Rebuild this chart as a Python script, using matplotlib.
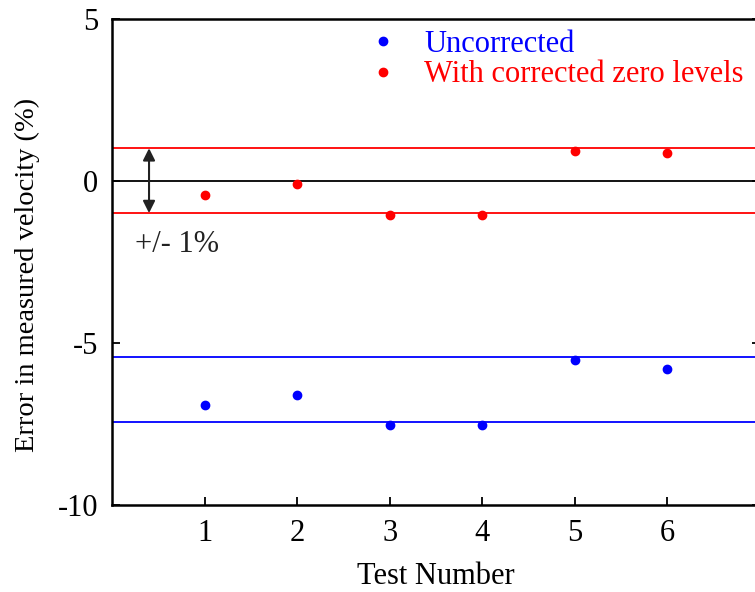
import numpy as np
import matplotlib.pyplot as plt

plt.rcParams['font.family'] = 'Liberation Serif'
plt.rcParams['axes.unicode_minus'] = False

# test numbers and velocity errors (%)
tests = [1, 2, 3, 4, 5, 6]
uncorrected = [-6.92, -6.6, -7.52, -7.52, -5.53, -5.82]
corrected = [-0.45, -0.1, -1.06, -1.06, 0.93, 0.85]

# band limits
red_band = [1.0, -1.0]
blue_band = [-5.45, -7.45]

fig = plt.figure(figsize=(7.55, 5.92), dpi=100)
ax = fig.add_axes([112 / 755, 1 - 505 / 592, 648 / 755, 486.5 / 592])

ax.axhline(0, color='black', lw=1.3)
for y in red_band:
    ax.axhline(y, color='red', lw=1.3)
for y in blue_band:
    ax.axhline(y, color='blue', lw=1.3)

ax.plot(tests, uncorrected, 'o', color='blue', ms=6, label='Uncorrected')
ax.plot(tests, corrected, 'o', color='red', ms=6, label='With corrected zero levels')

# +/- 1% arrow
ax.annotate('', xy=(0.4, -1.0), xytext=(0.4, 1.0),
            arrowprops=dict(arrowstyle='<|-|>', color='#222222', lw=1.5,
                            mutation_scale=18, shrinkA=0, shrinkB=0))
ax.text(0.25, -1.98, '+/- 1%', fontsize=22, va='center', ha='left', color='#222222')

ax.set_xlim(0, 7)
ax.set_ylim(-10, 5)
ax.set_xticks(tests)
ax.set_yticks([-10, -5, 0, 5])
ax.tick_params(direction='in', length=6, width=1.3, labelsize=22, pad=10)
ax.tick_params(axis='y', right=True)
for s in ax.spines.values():
    s.set_linewidth(1.8)

ax.set_xlabel('Test Number', fontsize=22, labelpad=10)
ax.set_ylabel('Error in measured velocity (%)', fontsize=20.5)
ax.yaxis.set_label_coords(-0.111, 0.473)

leg = ax.legend(loc='upper left', bbox_to_anchor=(0.352, 1.033), frameon=False,
                fontsize=22, handlelength=1.0, handletextpad=0.85,
                labelspacing=0.05, labelcolor='linecolor')

fig.savefig('out.png', dpi=100)
